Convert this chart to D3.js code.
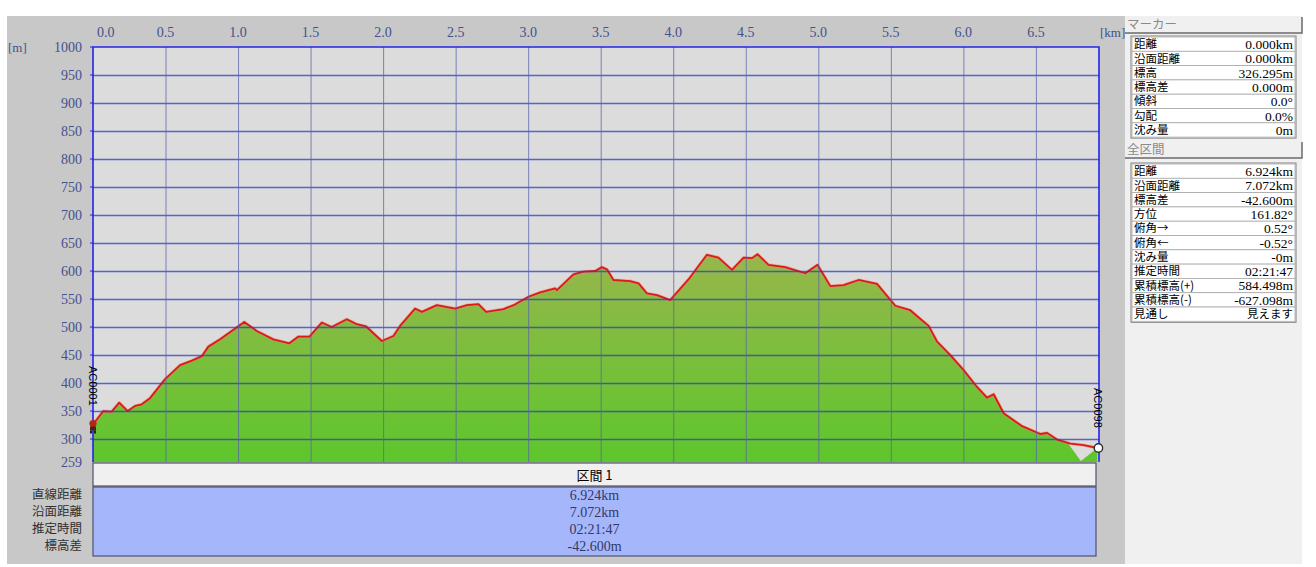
<!DOCTYPE html>
<html><head><meta charset="utf-8">
<script src="https://cdn.jsdelivr.net/npm/d3@7"></script>
<style>body{margin:0;background:#fff;}svg{display:block;}</style>
</head><body>
<script>
// ---- data ----
const distKm = [0.000,0.071,0.129,0.181,0.239,0.290,0.336,0.393,0.497,0.600,0.681,0.750,0.795,0.876,0.968,1.043,1.129,1.243,1.354,1.416,1.492,1.577,1.646,1.750,1.819,1.883,1.991,2.071,2.117,2.220,2.267,2.370,2.497,2.577,2.657,2.710,2.830,2.899,3.002,3.083,3.186,3.198,3.312,3.381,3.462,3.508,3.543,3.588,3.703,3.761,3.819,3.888,3.979,4.105,4.232,4.312,4.405,4.485,4.543,4.581,4.657,4.772,4.910,4.995,5.083,5.174,5.278,5.405,5.531,5.634,5.692,5.761,5.819,5.910,6.002,6.094,6.163,6.209,6.278,6.405,6.531,6.577,6.646,6.738,6.830,6.924];
const elevM = [326,350,349,365,350,359,362,373,407,432,440,448,465,478,495,509,493,478,471,483,483,508,500,514,505,501,475,484,502,533,527,539,533,539,541,527,532,539,554,562,569,566,594,599,600,607,603,584,582,578,560,557,548,585,629,624,602,624,623,630,611,607,596,611,573,575,584,577,538,530,517,502,474,450,423,393,374,380,346,323,309,311,299,292,289,284];
// terrain differs from route near the end (dip)
const groundDipKm = [6.720,6.810,6.924];
const groundDipM = [293,261,284];
const xTicks = [0.0,0.5,1.0,1.5,2.0,2.5,3.0,3.5,4.0,4.5,5.0,5.5,6.0,6.5];
const yTicks = [1000,950,900,850,800,750,700,650,600,550,500,450,400,350,300];
const yMin = 259;
const startLabel = "AC0001", endLabel = "AC0098";
const sectionTitle = "区間 1";
const sectionRowLabels = ["直線距離","沿面距離","推定時間","標高差"];
const sectionRowValues = ["6.924km","7.072km","02:21:47","-42.600m"];
const markerLabels = ["距離","沿面距離","標高","標高差","傾斜","勾配","沈み量"];
const markerValues = ["0.000km","0.000km","326.295m","0.000m","0.0°","0.0%","0m"];
const totalLabels = ["距離","沿面距離","標高差","方位","俯角→","俯角←","沈み量","推定時間","累積標高(+)","累積標高(-)","見通し"];
const totalValues = ["6.924km","7.072km","-42.600m","161.82°","0.52°","-0.52°","-0m","02:21:47","584.498m","-627.098m","見えます"];

// ---- layout ----
const W = 1316, H = 567;
const PL = 93, PR = 1099, PT = 47, PB = 462;
const serif = "'Liberation Serif','DejaVu Serif',serif";
const jp = "'Noto Sans CJK JP','Noto Sans',sans-serif";
const tickCol = "#44508f";

const svg = d3.select("body").append("svg").attr("width", W).attr("height", H);
const defs = svg.append("defs");
const grad = defs.append("linearGradient").attr("id","gfill").attr("gradientUnits","userSpaceOnUse")
  .attr("x1",0).attr("x2",0).attr("y1",250).attr("y2",PB);
grad.append("stop").attr("offset",0).attr("stop-color","#98b64c");
grad.append("stop").attr("offset",1).attr("stop-color","#5ec62c");
defs.append("clipPath").attr("id","pclip").append("rect").attr("x",PL).attr("y",PT).attr("width",PR-PL).attr("height",PB-PT);

// backgrounds
svg.append("rect").attr("x",7).attr("y",16).attr("width",1118).attr("height",548).attr("fill","#c8c8c8");
svg.append("rect").attr("x",1125).attr("y",16).attr("width",177).attr("height",548).attr("fill","#f0f0f0");
svg.append("rect").attr("x",PL).attr("y",PT).attr("width",PR-PL).attr("height",PB-PT).attr("fill","#dcdcdc");

const x = d3.scaleLinear().domain([0, 6.935]).range([PL, PR]);
const y = d3.scaleLinear().domain([yMin, 1000]).range([PB, PT]);

const route = distKm.map((d,i)=>({d, e:elevM[i]}));
const ground = route.filter(p=>p.d < groundDipKm[0]).concat(groundDipKm.map((d,i)=>({d, e:groundDipM[i]})));

const plot = svg.append("g").attr("clip-path","url(#pclip)");
plot.append("path").datum(ground)
  .attr("d", d3.area().x(p=>x(p.d)).y0(PB).y1(p=>y(p.e)))
  .attr("fill","url(#gfill)");

// grid
const yAxis = d3.axisLeft(y).tickValues(yTicks.filter(v=>v<1000)).tickSize(-(PR-PL)).tickFormat("");
const gy = svg.append("g").attr("transform",`translate(${PL},0)`).call(yAxis);
gy.select(".domain").remove();
gy.selectAll("line").attr("stroke","#2c3cc4").attr("stroke-width",1.4).attr("stroke-opacity",0.75);
const xAxis = d3.axisTop(x).tickValues(xTicks.filter(v=>v>0)).tickSize(-(PB-PT)).tickFormat("");
const gx = svg.append("g").attr("transform",`translate(0,${PT})`).call(xAxis);
gx.select(".domain").remove();
gx.selectAll("line").attr("stroke","#5862ae").attr("stroke-width",1).attr("stroke-opacity",0.75);

// route line
plot.append("path").datum(route)
  .attr("d", d3.line().x(p=>x(p.d)).y(p=>y(p.e)))
  .attr("fill","none").attr("stroke","#f08070").attr("stroke-width",3.2).attr("stroke-opacity",0.5).attr("stroke-linejoin","round");
plot.append("path").datum(route)
  .attr("d", d3.line().x(p=>x(p.d)).y(p=>y(p.e)))
  .attr("fill","none").attr("stroke","#dc1a14").attr("stroke-width",1.8).attr("stroke-linejoin","round");

// plot border
svg.append("path").attr("d",`M${PL},${PB}V${PT}H${PR}V${PB}`).attr("fill","none").attr("stroke","#2424e8").attr("stroke-width",1.6);
// left ticks
svg.append("g").selectAll("line").data(yTicks).join("line")
  .attr("x1",PL-3).attr("x2",PL).attr("y1",d=>y(d)).attr("y2",d=>y(d)).attr("stroke","#2424e8");

// tick labels
svg.append("g").selectAll("text").data(xTicks).join("text")
  .attr("x",(d,i)=> i===0 ? x(d)+4 : x(d))
  .attr("y",37).attr("text-anchor",(d,i)=> i===0 ? "start":"middle")
  .attr("font-family",serif).attr("font-size",14).attr("fill",tickCol)
  .text(d=>d.toFixed(1));
svg.append("g").selectAll("text").data(yTicks.concat([yMin])).join("text")
  .attr("x",82).attr("y",d=>y(d)).attr("dy","0.35em").attr("text-anchor","end")
  .attr("font-family",serif).attr("font-size",14).attr("fill",tickCol)
  .text(d=>d);
svg.append("text").attr("x",8).attr("y",52).attr("font-family",serif).attr("font-size",13).attr("fill",tickCol).text("[m]");
svg.append("text").attr("x",1100).attr("y",37).attr("font-family",serif).attr("font-size",13).attr("fill",tickCol).text("[km]");

// start / end labels
const sx = x(distKm[0]), sy = y(elevM[0]);
const ex = x(distKm[distKm.length-1]), ey = y(elevM[elevM.length-1]);
svg.append("text").attr("transform",`translate(${sx},${366}) rotate(90)`)
  .attr("dy","0.35em").attr("font-family","'Liberation Sans',Arial,sans-serif").attr("font-size",11).attr("fill","#000").text(startLabel);
svg.append("text").attr("transform",`translate(${ex},${388}) rotate(90)`)
  .attr("dy","0.35em").attr("font-family","'Liberation Sans',Arial,sans-serif").attr("font-size",11).attr("fill","#000").text(endLabel);
// start marker icon
const icon = svg.append("g").attr("transform",`translate(${sx},${sy})`);
icon.append("circle").attr("cx",0).attr("cy",-1).attr("r",3.6).attr("fill","#b82418");
icon.append("rect").attr("x",-3).attr("y",2).attr("width",6).attr("height",4).attr("fill","#502010");
icon.append("rect").attr("x",-3).attr("y",6).attr("width",2).attr("height",3).attr("fill","#222");
icon.append("rect").attr("x",1).attr("y",6).attr("width",2).attr("height",3).attr("fill","#222");
// end marker
svg.append("circle").attr("cx",ex+1).attr("cy",ey).attr("r",4.2).attr("fill","#fff").attr("stroke","#303030").attr("stroke-width",1.4);

// section table
svg.append("rect").attr("x",PL).attr("y",PB+1).attr("width",1003).attr("height",23).attr("fill","#f0f0f0").attr("stroke","#505070").attr("stroke-width",1.2);
svg.append("text").attr("x",PL+1003/2).attr("y",PB+13).attr("dy","0.35em").attr("text-anchor","middle")
  .attr("font-family",jp).attr("font-size",13).attr("fill","#000").text(sectionTitle);
svg.append("rect").attr("x",PL).attr("y",PB+25).attr("width",1003).attr("height",69).attr("fill","#a6b6fa").attr("stroke","#505070").attr("stroke-width",1.2);
svg.append("g").selectAll("text").data(sectionRowValues).join("text")
  .attr("x",PL+1003/2).attr("y",(d,i)=>495+i*17).attr("dy","0.35em").attr("text-anchor","middle")
  .attr("font-family",serif).attr("font-size",14).attr("fill","#303a6a").text(d=>d);
svg.append("g").selectAll("text").data(sectionRowLabels).join("text")
  .attr("x",82).attr("y",(d,i)=>495+i*17).attr("dy","0.35em").attr("text-anchor","end")
  .attr("font-family",jp).attr("font-size",12.5).attr("fill","#303030").text(d=>d);

// right panel
function header(yTop, label){
  const g = svg.append("g");
  g.append("rect").attr("x",1125).attr("y",yTop).attr("width",177).attr("height",16).attr("fill","#f0f0f0");
  g.append("path").attr("d",`M1125,${yTop+16}H1302V${yTop}`).attr("fill","none").attr("stroke","#6a6a6a").attr("stroke-width",1.5);
  g.append("text").attr("x",1127).attr("y",yTop+8).attr("dy","0.35em").attr("font-family",jp).attr("font-size",12.5).attr("fill","#8a8a8a").text(label);
}
function table(yTop, labels, values){
  const rh = 14.3;
  const g = svg.append("g");
  g.append("rect").attr("x",1131).attr("y",yTop).attr("width",165).attr("height",rh*labels.length+2).attr("fill","#fff").attr("stroke","#808080");
  labels.forEach((l,i)=>{
    const ry = yTop+1+i*rh;
    const num = /^[\-0-9.:]/.test(values[i]);
    g.append("rect").attr("x",1132).attr("y",ry).attr("width",163).attr("height",rh).attr("fill","#fff").attr("stroke","#a8a8a8").attr("stroke-width",0.8);
    g.append("text").attr("x",1134).attr("y",ry+rh/2).attr("dy","0.36em").attr("font-family",jp).attr("font-size",11.5).attr("fill","#000").text(l);
    g.append("text").attr("x",1293).attr("y",ry+rh/2).attr("dy","0.36em").attr("text-anchor","end")
      .attr("font-family", num ? serif : jp).attr("font-size", num ? 13.5 : 11.5).attr("fill","#000").text(values[i]);
  });
}
header(17, "マーカー");
table(36, markerLabels, markerValues);
header(142, "全区間");
table(163, totalLabels, totalValues);
</script>
</body></html>
